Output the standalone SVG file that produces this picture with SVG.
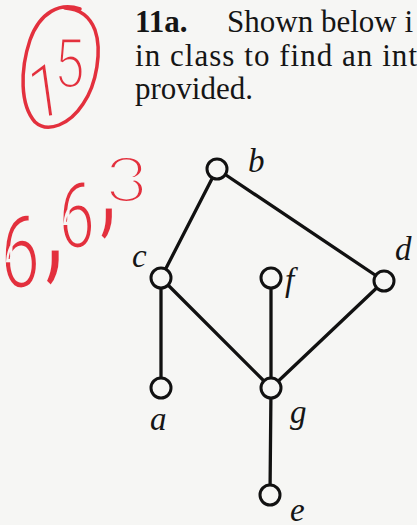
<svg xmlns="http://www.w3.org/2000/svg" width="417" height="525" viewBox="0 0 417 525">
<style>
.hdr{font-family:"Liberation Serif",serif;font-size:31px;fill:#151515}
.lbl{font-family:"Liberation Serif",serif;font-style:italic;font-size:33px;fill:#151515}
.red{font-family:Roboto,"Liberation Sans",sans-serif;fill:#e3303d;stroke:#f6f6f4;stroke-width:3.2;paint-order:fill}
.edge{stroke:#111;stroke-width:3.3;stroke-linecap:round;fill:none}
.node circle{fill:#f6f6f4;stroke:#111;stroke-width:3}
</style>
<rect width="417" height="525" fill="#f6f6f4"/>
<g id="header">
<text class="hdr" x="135" y="32" font-weight="bold">11a.</text>
<text class="hdr" x="227" y="32">Shown below i</text>
<text class="hdr" x="135" y="66" textLength="282" lengthAdjust="spacing">in class to find an int</text>
<text class="hdr" x="135" y="99">provided.</text>
</g>
<g id="grade">
<path d="M 80 9 C 60 2, 40 12, 30 40 C 20 70, 20 105, 35 122 C 48 134, 70 124, 83 104 C 97 84, 102 50, 95 30 C 90 17, 80 9, 65 8" fill="none" stroke="#e3303d" stroke-width="3.5" stroke-linecap="round"/>
<text class="red" transform="scale(0.8 1)"><tspan x="40" y="121" font-size="77" rotate="-10">1</tspan><tspan x="67" y="88" font-size="70">5</tspan></text>
<text class="red" transform="scale(0.7 1)"><tspan x="0" y="288" font-size="103">6</tspan><tspan x="63" y="265" font-size="150">,</tspan><tspan x="83" y="248" font-size="95">6</tspan><tspan x="141" y="222" font-size="135">,</tspan><tspan x="150" y="202" font-size="63" textLength="63" lengthAdjust="spacingAndGlyphs">3</tspan></text>
</g>
<g id="connectors">
<line class="edge" x1="217" y1="169" x2="161" y2="278"/>
<line class="edge" x1="217" y1="169" x2="384" y2="281"/>
<line class="edge" x1="161" y1="278" x2="161" y2="388"/>
<line class="edge" x1="161" y1="278" x2="271" y2="388"/>
<line class="edge" x1="271" y1="278" x2="271" y2="388"/>
<line class="edge" x1="384" y1="281" x2="271" y2="388"/>
<line class="edge" x1="271" y1="388" x2="270" y2="495"/>
</g>
<g id="node-b" class="node"><circle cx="217" cy="169" r="10"/><text class="lbl" x="248" y="172">b</text></g>
<g id="node-c" class="node"><circle cx="161" cy="278" r="10"/><text class="lbl" x="132" y="267">c</text></g>
<g id="node-d" class="node"><circle cx="384" cy="281" r="10"/><text class="lbl" x="395" y="260">d</text></g>
<g id="node-f" class="node"><circle cx="271" cy="278" r="10"/><text class="lbl" x="285" y="291">f</text></g>
<g id="node-a" class="node"><circle cx="161" cy="388" r="10"/><text class="lbl" x="150" y="430">a</text></g>
<g id="node-g" class="node"><circle cx="271" cy="388" r="10"/><text class="lbl" x="290" y="423">g</text></g>
<g id="node-e" class="node"><circle cx="270" cy="495" r="10"/><text class="lbl" x="290" y="521">e</text></g>
</svg>
